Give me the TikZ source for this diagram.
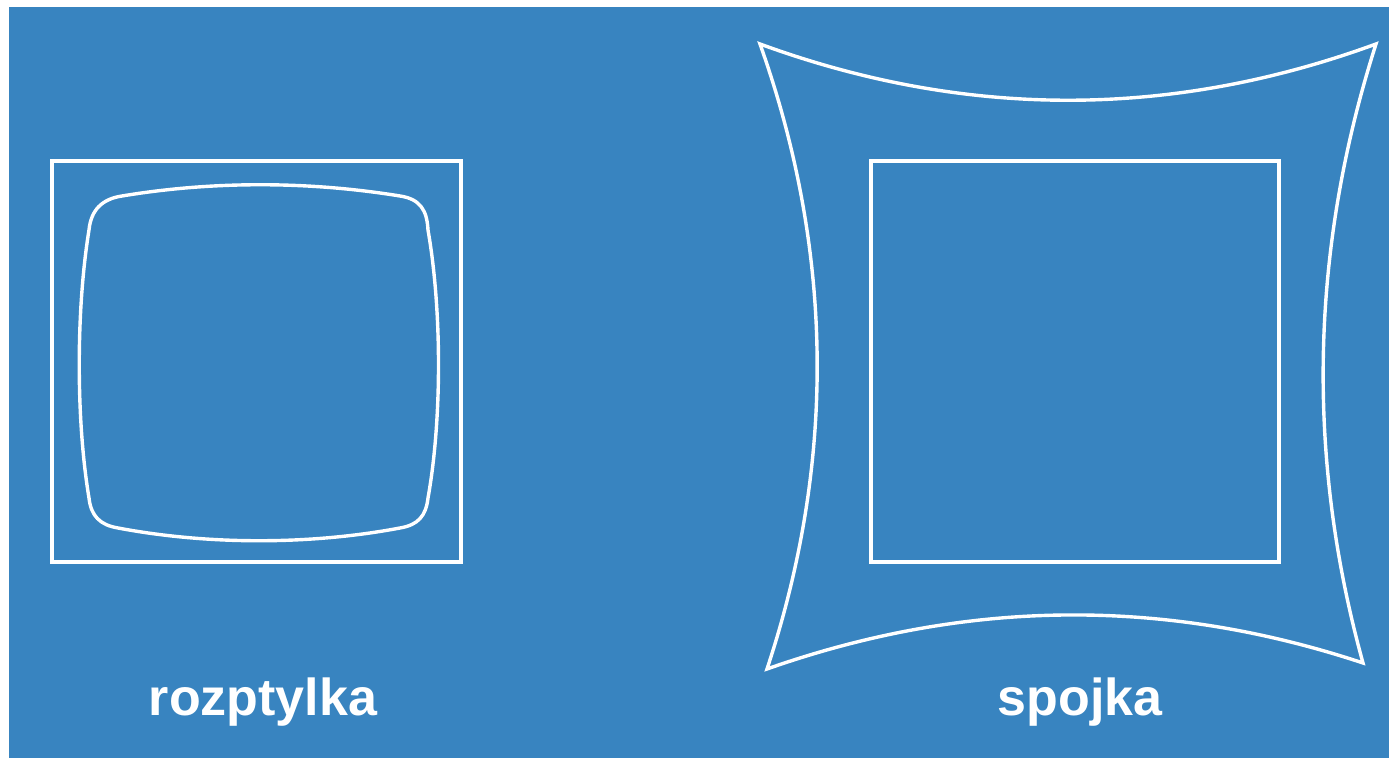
\documentclass[tikz,border=0pt]{standalone}
\usepackage{fontspec}
\setmainfont{Liberation Sans}
\definecolor{bgblue}{RGB}{56,132,192}
\begin{document}
\begin{tikzpicture}[x=0.5pt,y=-0.5pt,
  frame/.style={draw=white,line width=2.3pt},
  curve/.style={draw=white,line width=1.7pt,line join=miter},
  lbl/.style={text=white,font=\fontsize{26}{30}\selectfont\bfseries,anchor=base,inner sep=0pt}]
\useasboundingbox (0,0) rectangle (1389,758);
\fill[white] (0,0) rectangle (1389,758);
\fill[bgblue] (9,7) rectangle (1389,758);
% left: rozptylka
\draw[frame] (52,161) rectangle (461,562);
\draw[curve] (122,196) .. controls (212,181) and (308,181) .. (400,196)
  .. controls (420,199) and (427,210) .. (428,230)
  .. controls (442,310) and (442,420) .. (428,498)
  .. controls (426,516) and (418,525) .. (400,528)
  .. controls (310,545) and (208,545) .. (118,528)
  .. controls (100,525) and (91,516) .. (89,498)
  .. controls (76,420) and (76,310) .. (89,230)
  .. controls (91,210) and (102,199) .. (122,196) -- cycle;
\node[lbl] (l1) at (263,716) {rozptylka};
% right: spojka
\draw[frame] (871,161) rectangle (1279,562);
\draw[curve] (760,44) .. controls (965,119) and (1171,119) .. (1376,44)
  .. controls (1310,250) and (1306,457) .. (1363,663)
  .. controls (1164,597) and (966,599) .. (767,669)
  .. controls (836,461) and (834,252) .. (760,44) -- cycle;
\node[lbl] (l2) at (1080,716) {spojka};
\end{tikzpicture}
\end{document}
